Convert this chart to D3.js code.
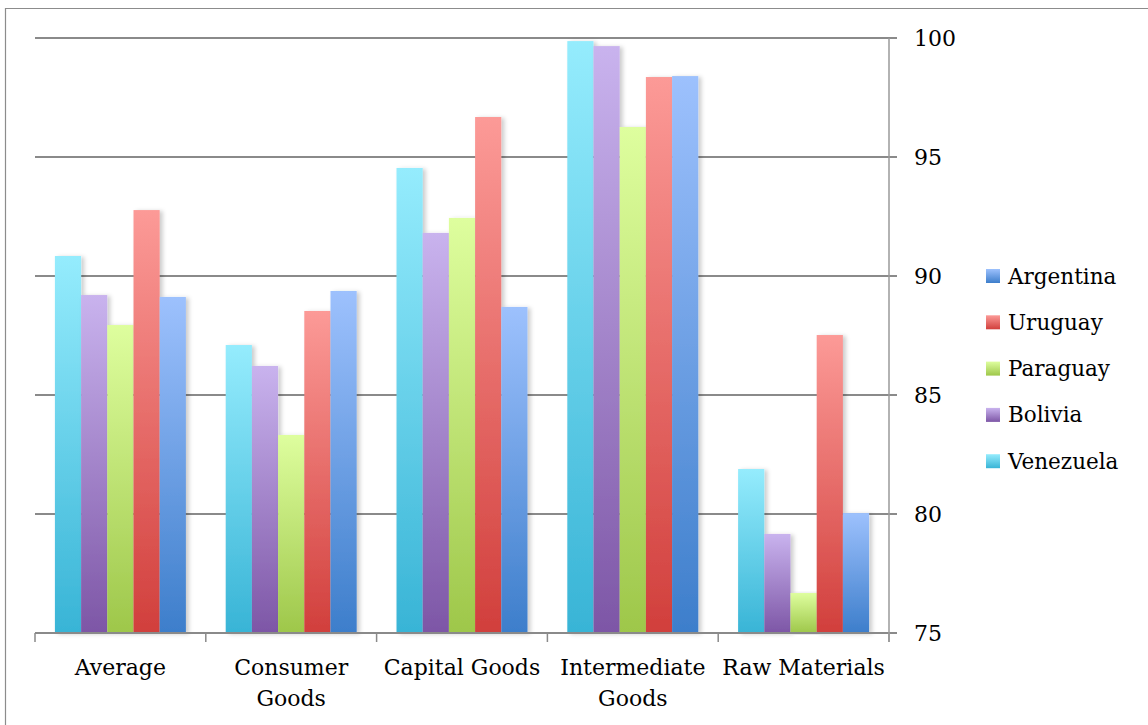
<!DOCTYPE html>
<html>
<head>
<meta charset="utf-8">
<script src="https://cdn.jsdelivr.net/npm/d3@7"></script>
<style>
  html, body { margin: 0; padding: 0; background: #fff; }
  svg { display: block; }
  text { font-family: "DejaVu Serif", "Liberation Serif", serif; fill: #000; }
</style>
</head>
<body>
<svg id="chart" width="1148" height="725"></svg>
<script>
// Import categories and series (left-to-right order within each group)
const categories = ["Average", "Consumer Goods", "Capital Goods", "Intermediate Goods", "Raw Materials"];
const categoryLines = [["Average"], ["Consumer", "Goods"], ["Capital Goods"], ["Intermediate", "Goods"], ["Raw Materials"]];
const seriesNames = ["Venezuela", "Bolivia", "Paraguay", "Uruguay", "Argentina"];
const venezuela = [90.84, 87.10, 94.54, 99.87, 81.89];
const bolivia   = [89.20, 86.22, 91.81, 99.66, 79.16];
const paraguay  = [87.94, 83.32, 92.44, 96.26, 76.68];
const uruguay   = [92.77, 88.53, 96.68, 98.36, 87.52];
const argentina = [89.12, 89.37, 88.70, 98.40, 80.04];
const seriesValues = [venezuela, bolivia, paraguay, uruguay, argentina];
const legendOrder = ["Argentina", "Uruguay", "Paraguay", "Bolivia", "Venezuela"];
const yTicks = [75, 80, 85, 90, 95, 100];

// Gradient stops per series: light top, saturated bottom
const colors = {
  Venezuela: ["#95ecfd", "#38b4d6"],
  Bolivia:   ["#c9b3ee", "#7d56a6"],
  Paraguay:  ["#defe9e", "#9ec74a"],
  Uruguay:   ["#fc9a97", "#d13f3c"],
  Argentina: ["#9dc1fd", "#3d7ecb"]
};

const svg = d3.select("#chart");
const plotLeft = 35, plotRight = 889, plotTop = 38, plotBottom = 633;

const x0 = d3.scaleBand().domain(categories).range([plotLeft, plotRight]).paddingInner(0).paddingOuter(0);
const x1 = d3.scaleBand().domain(seriesNames).range([0, x0.bandwidth()]).paddingInner(0).paddingOuter(0.76);
const y = d3.scaleLinear().domain([75, 100]).range([plotBottom, plotTop]);

const defs = svg.append("defs");
seriesNames.forEach(name => {
  const g = defs.append("linearGradient").attr("id", "grad-" + name)
    .attr("x1", 0).attr("y1", 0).attr("x2", 0).attr("y2", 1);
  g.append("stop").attr("offset", "0%").attr("stop-color", colors[name][0]);
  g.append("stop").attr("offset", "100%").attr("stop-color", colors[name][1]);
});
const shadow = defs.append("filter").attr("id", "shadow")
  .attr("x", "-20%").attr("y", "-5%").attr("width", "160%").attr("height", "110%");
shadow.append("feDropShadow").attr("dx", 3).attr("dy", 1).attr("stdDeviation", 2.2)
  .attr("flood-color", "#000").attr("flood-opacity", 0.2);

// Outer frame
svg.append("path").attr("d", "M5.5,725 V8.5 H1148")
  .attr("fill", "none").attr("stroke", "#8c8c8c").attr("stroke-width", 1.2);

// Horizontal gridlines with tick stubs to the right
svg.append("g").selectAll("line").data(yTicks.filter(t => t > 75)).join("line")
  .attr("x1", plotLeft).attr("x2", plotRight + 8)
  .attr("y1", d => y(d)).attr("y2", d => y(d))
  .attr("stroke", "#8a8a8a").attr("stroke-width", 2);

// Bars
const groups = svg.append("g").selectAll("g").data(categories).join("g")
  .attr("transform", d => `translate(${x0(d)},0)`);
groups.selectAll("rect")
  .data((c, ci) => seriesNames.map((s, si) => ({ s, v: seriesValues[si][ci] })))
  .join("rect")
  .attr("x", d => x1(d.s))
  .attr("width", x1.bandwidth())
  .attr("y", d => y(d.v))
  .attr("height", d => y(75) - y(d.v))
  .attr("fill", d => `url(#grad-${d.s})`)
  .attr("filter", "url(#shadow)");

// Baseline axis with category boundary ticks
svg.append("line").attr("x1", plotLeft).attr("x2", plotRight + 8)
  .attr("y1", y(75)).attr("y2", y(75))
  .attr("stroke", "#8a8a8a").attr("stroke-width", 2);
const bounds = categories.map(c => x0(c)).concat([plotRight]);
svg.append("g").selectAll("line").data(bounds).join("line")
  .attr("x1", d => d).attr("x2", d => d)
  .attr("y1", y(75)).attr("y2", y(75) + 9)
  .attr("stroke", "#8a8a8a").attr("stroke-width", 1.5);

// Right value axis
svg.append("line").attr("x1", plotRight).attr("x2", plotRight)
  .attr("y1", y(100)).attr("y2", y(75) + 9)
  .attr("stroke", "#9a9a9a").attr("stroke-width", 1.5);
svg.append("g").selectAll("text").data(yTicks).join("text")
  .attr("x", 914).attr("y", d => y(d) + 8)
  .attr("font-size", 22)
  .text(d => d);

// Category labels
const labels = svg.append("g").selectAll("text").data(categories).join("text")
  .attr("text-anchor", "middle")
  .attr("font-size", 22)
  .attr("x", d => x0(d) + x0.bandwidth() / 2)
  .attr("y", 675);
labels.each(function(d, i) {
  d3.select(this).selectAll("tspan").data(categoryLines[i]).join("tspan")
    .attr("x", x0(d) + x0.bandwidth() / 2)
    .attr("dy", (t, j) => j === 0 ? 0 : 31)
    .text(t => t);
});

// Legend
const legend = svg.append("g").selectAll("g").data(legendOrder).join("g")
  .attr("transform", (d, i) => `translate(986,${276 + i * 46.3})`);
legend.append("rect").attr("x", 0).attr("y", -7).attr("width", 14).attr("height", 14)
  .attr("fill", d => `url(#grad-${d})`);
legend.append("text").attr("x", 22).attr("y", 7.5).attr("font-size", 21.5).text(d => d);
</script>
</body>
</html>
